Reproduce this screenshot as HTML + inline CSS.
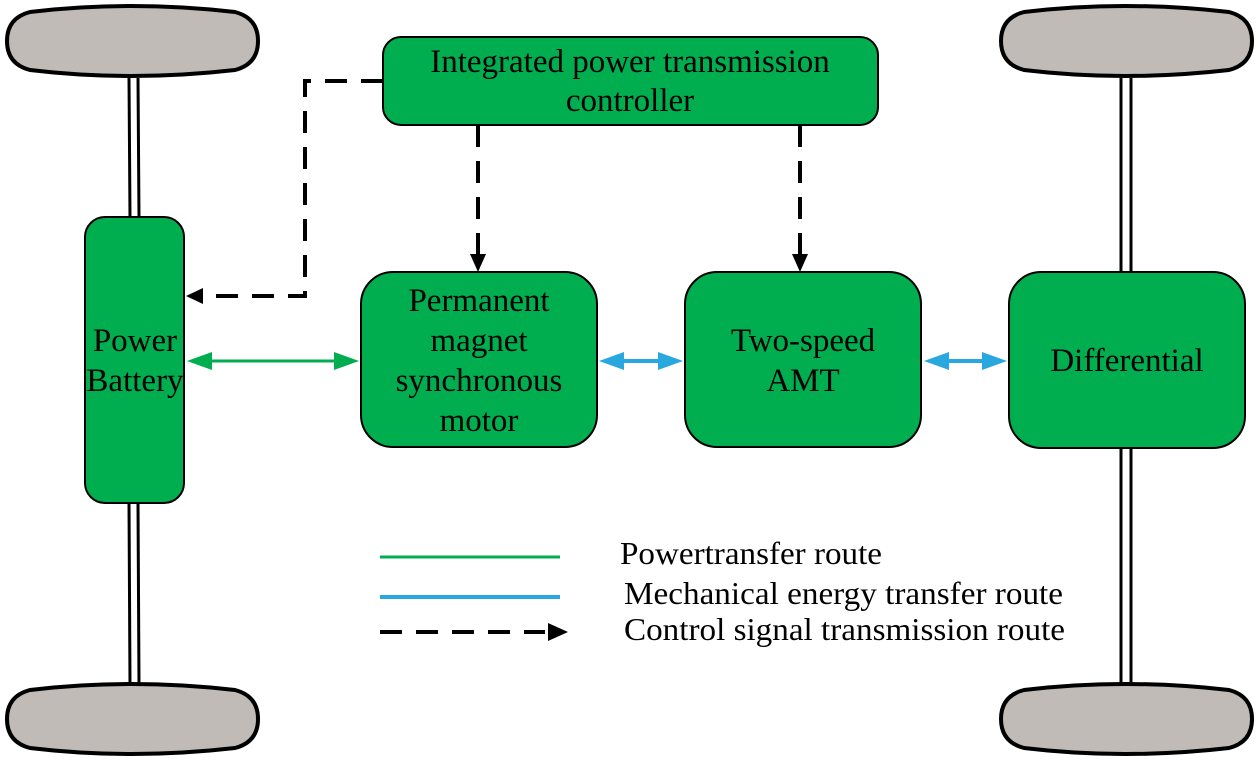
<!DOCTYPE html>
<html><head><meta charset="utf-8"><style>body{margin:0;background:#fff}svg{display:block}</style></head><body>
<svg width="1260" height="763" viewBox="0 0 1260 763" xmlns="http://www.w3.org/2000/svg" font-family="Liberation Serif, serif" font-size="33">
<g fill="#c0bbb7" stroke="#000" stroke-width="4">
<path d="M30,12 Q130,0 235,12 Q258,18 258,41 Q258,64 235,70 Q130,82 30,70 Q7,64 7,41 Q7,18 30,12z"/>
<path d="M1024,12 Q1124,0 1229,12 Q1252,18 1252,41 Q1252,64 1229,70 Q1124,82 1024,70 Q1001,64 1001,41 Q1001,18 1024,12z"/>
<path d="M30,690 Q130,678 235,690 Q258,696 258,719 Q258,742 235,748 Q130,760 30,748 Q7,742 7,719 Q7,696 30,690z"/>
<path d="M1024,690 Q1124,678 1229,690 Q1252,696 1252,719 Q1252,742 1229,748 Q1124,760 1024,748 Q1001,742 1001,719 Q1001,696 1024,690z"/>
</g>
<g stroke="#000" stroke-width="3">
<line x1="129" y1="78" x2="130" y2="217"/><line x1="138" y1="78" x2="139" y2="217"/>
<line x1="129" y1="503" x2="130" y2="684"/><line x1="138" y1="503" x2="139" y2="684"/>
<line x1="1121" y1="78" x2="1121" y2="272"/><line x1="1131" y1="78" x2="1131" y2="272"/>
<line x1="1121" y1="448" x2="1121" y2="684"/><line x1="1131" y1="448" x2="1131" y2="684"/>
</g>
<g fill="#00ae4f" stroke="#000" stroke-width="2">
<rect x="85" y="217" width="99" height="286" rx="20"/>
<rect x="383" y="37" width="495" height="88" rx="18"/>
<rect x="361" y="272" width="236" height="175" rx="32"/>
<rect x="685" y="272" width="236" height="175" rx="32"/>
<rect x="1009" y="272" width="236" height="176" rx="32"/>
</g>
<g text-anchor="middle" fill="#000">
<text x="630" y="72">Integrated power transmission</text>
<text x="630" y="111">controller</text>
<text x="135" y="351">Power</text><text x="135" y="391">Battery</text>
<text x="479" y="311">Permanent</text><text x="479" y="351">magnet</text><text x="479" y="391">synchronous</text><text x="479" y="431">motor</text>
<text x="803" y="351">Two-speed</text><text x="803" y="391">AMT</text>
<text x="1127" y="371">Differential</text>
</g>
<g stroke="#000" stroke-width="4" fill="none" stroke-dasharray="22,14">
<polyline points="383,81 305,81 305,296 205,296"/>
<line x1="478" y1="125" x2="478" y2="255"/>
<line x1="800" y1="125" x2="800" y2="255"/>
<line x1="380" y1="632" x2="545" y2="632"/>
</g>
<path d="M186,296L203,288L203,304z"/>
<path d="M478,272L470,254L486,254z"/>
<path d="M800,272L792,254L808,254z"/>
<path d="M568,632L548,623L548,641z"/>
<g stroke="#00ae4f" stroke-width="3"><line x1="200" y1="361" x2="345" y2="361"/><line x1="380" y1="557" x2="560" y2="557"/></g>
<path d="M187,361L212,352L212,370z" fill="#00ae4f"/><path d="M359,361L334,352L334,370z" fill="#00ae4f"/>
<g stroke="#29a8e0" stroke-width="4"><line x1="610" y1="361" x2="672" y2="361"/><line x1="935" y1="361" x2="996" y2="361"/><line x1="380" y1="597" x2="560" y2="597"/></g>
<g fill="#29a8e0">
<path d="M599,361L624,352L624,370z"/><path d="M683,361L658,352L658,370z"/>
<path d="M924,361L949,352L949,370z"/><path d="M1007,361L982,352L982,370z"/>
</g>
<g font-size="32" fill="#000" textLength="0">
<text x="620" y="564" textLength="262" lengthAdjust="spacingAndGlyphs">Powertransfer route</text>
<text x="624" y="604" textLength="439" lengthAdjust="spacingAndGlyphs">Mechanical energy transfer route</text>
<text x="624" y="640" textLength="441" lengthAdjust="spacingAndGlyphs">Control signal transmission route</text>
</g>
</svg>
</body></html>
